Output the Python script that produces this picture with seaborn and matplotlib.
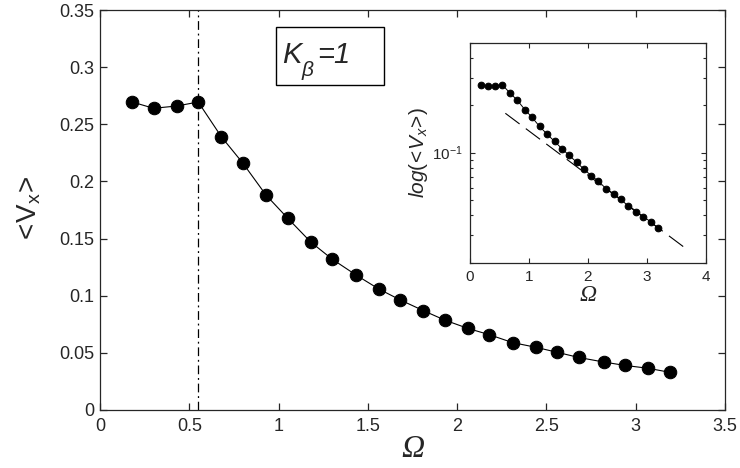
import numpy as np
import pandas as pd
import matplotlib
matplotlib.use("Agg")
import matplotlib.pyplot as plt
import seaborn as sns
from matplotlib.patches import Rectangle
from matplotlib.ticker import FormatStrFormatter, FixedLocator, NullFormatter

# data
omega = [0.18, 0.30, 0.43, 0.55, 0.68, 0.80, 0.93, 1.05, 1.18, 1.30, 1.435, 1.56, 1.68,
         1.81, 1.93, 2.06, 2.18, 2.31, 2.44, 2.56, 2.68, 2.82, 2.94, 3.07, 3.19]
vx = [0.2695, 0.264, 0.266, 0.2695, 0.239, 0.216, 0.188, 0.168, 0.147, 0.132, 0.118,
      0.106, 0.0964, 0.087, 0.0787, 0.0714, 0.0659, 0.059, 0.0549, 0.0505, 0.046,
      0.042, 0.039, 0.0365, 0.033]
omega_c = 0.55
fit_omega = [0.6, 3.62]
fit_vx = [0.178, 0.0253]

df = pd.DataFrame({"omega": omega, "vx": vx})
fit = pd.DataFrame({"omega": fit_omega, "vx": fit_vx})

sns.set_style("ticks")
plt.rcParams["font.family"] = ["Liberation Sans", "DejaVu Sans"]
plt.rcParams["mathtext.fontset"] = "custom"
plt.rcParams["mathtext.rm"] = "Liberation Sans"
plt.rcParams["mathtext.it"] = "Liberation Sans:italic"
plt.rcParams["axes.linewidth"] = 0.9
plt.rcParams["xtick.direction"] = "in"
plt.rcParams["ytick.direction"] = "in"
plt.rcParams["xtick.top"] = True
plt.rcParams["ytick.right"] = True

fig = plt.figure(figsize=(7.4, 4.68), dpi=100)
ax = fig.add_axes([100 / 740, 58 / 468, 625 / 740, 400 / 468])

sns.lineplot(data=df, x="omega", y="vx", ax=ax, color="black", lw=0.8,
             marker="o", markersize=9, markeredgecolor="black", estimator=None)
ax.plot([omega_c, omega_c], [0, 0.35], color="black", lw=0.9, ls=(0, (7, 3, 1.5, 3)))

ax.set_xlim(0, 3.5)
ax.set_ylim(0, 0.35)
ax.set_xticks(np.arange(0, 3.51, 0.5))
ax.set_yticks(np.arange(0, 0.351, 0.05))
ax.xaxis.set_major_formatter(FormatStrFormatter("%g"))
ax.yaxis.set_major_formatter(FormatStrFormatter("%g"))
ax.tick_params(labelsize=13, length=5, width=0.9)
ax.tick_params(axis="x", pad=6)
ax.tick_params(axis="y", pad=4)
ax.set_xlabel("Ω", family="Liberation Serif", style="italic", fontsize=23, labelpad=0)
ax.set_ylabel(r"$\mathregular{<\!V_x\!>}$", fontsize=20, labelpad=12)

# K_beta box
ax.add_patch(Rectangle((0.281, 0.8125), 0.173, 0.1455, transform=ax.transAxes,
                       fill=False, lw=1.0, ec="black", zorder=5))
ax.text(0.291, 0.867, "K", transform=ax.transAxes, fontsize=21, style="italic",
        ha="left", va="baseline")
ax.text(0.323, 0.836, "β", transform=ax.transAxes, fontsize=15, style="italic",
        ha="left", va="baseline")
ax.text(0.347, 0.867, "=1", transform=ax.transAxes, fontsize=21, style="italic",
        ha="left", va="baseline")

# inset
ins = fig.add_axes([470 / 740, 205.3 / 468, 235.7 / 740, 220 / 468])
sns.lineplot(data=df, x="omega", y="vx", ax=ins, color="black", lw=0.7,
             marker="o", markersize=4.8, markeredgecolor="black", estimator=None)
sns.lineplot(data=fit, x="omega", y="vx", ax=ins, color="black", lw=0.8,
             dashes=False, ls=(0, (16, 7)))
ins.set_yscale("log")
ins.set_xlim(0, 4)
ins.set_ylim(0.02, 0.5)
ins.set_xticks([0, 1, 2, 3, 4])
ins.yaxis.set_major_locator(FixedLocator([0.1]))
ins.yaxis.set_minor_locator(FixedLocator([0.02, 0.03, 0.04, 0.05, 0.06, 0.07, 0.08,
                                          0.09, 0.2, 0.3, 0.4, 0.5]))
ins.yaxis.set_minor_formatter(NullFormatter())
ins.tick_params(labelsize=11, length=3.5, width=0.8, pad=5)
ins.tick_params(which="minor", length=2.5, width=0.8)
ins.set_xlabel("Ω", family="Liberation Serif", style="italic", fontsize=17, labelpad=1)
ins.set_ylabel(r"$\mathit{log(\!<\!V_x\!>\!)}$", fontsize=15, labelpad=2)

fig.savefig("out.png", dpi=100)
